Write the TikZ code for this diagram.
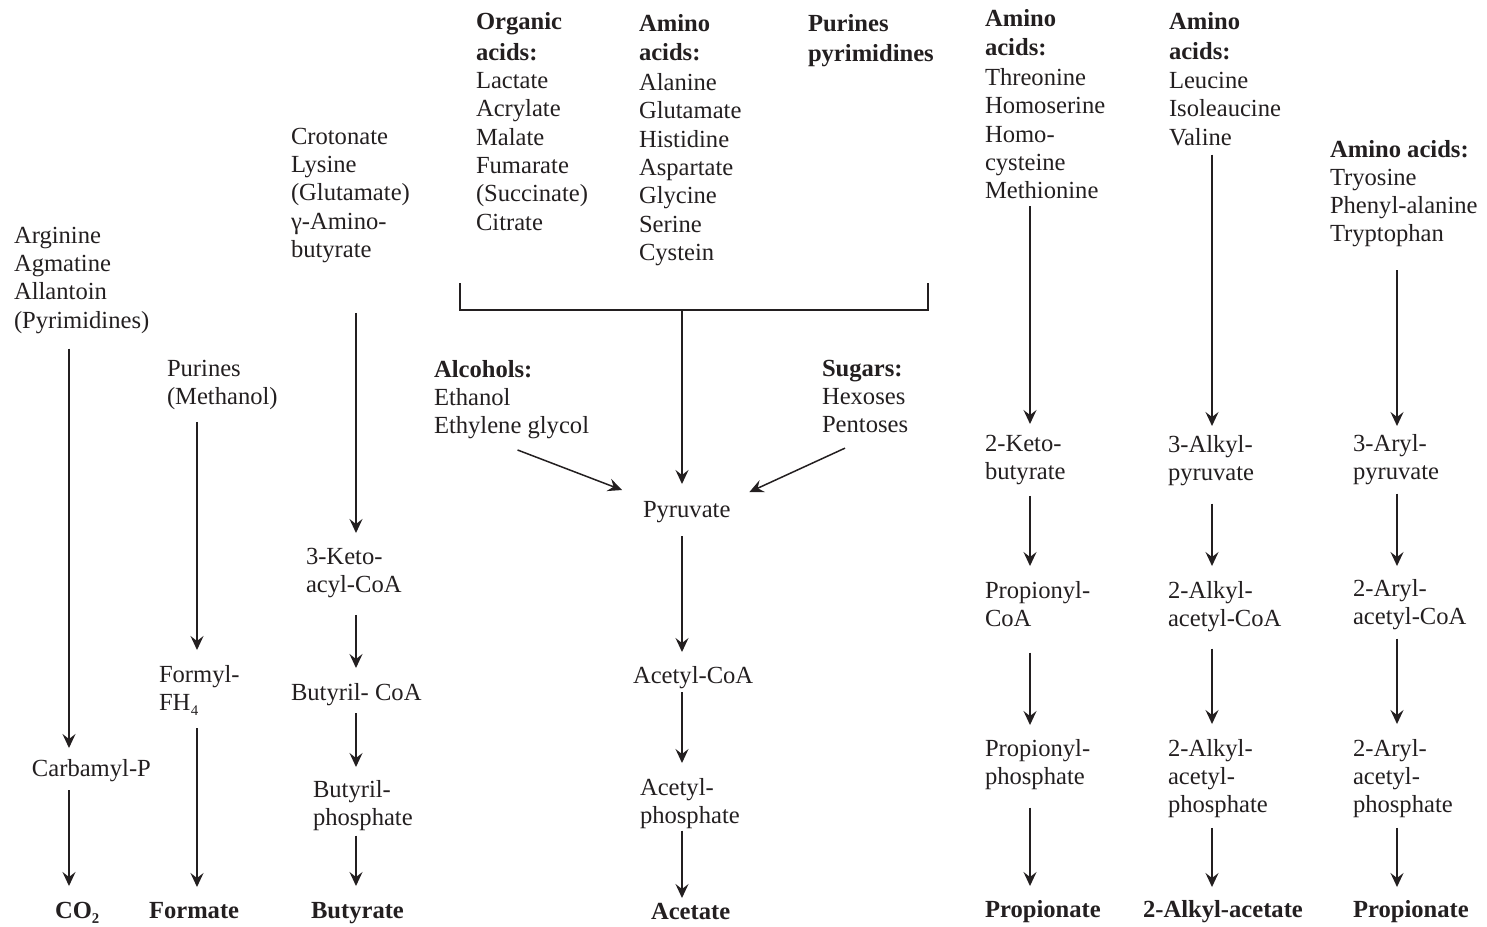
\documentclass[tikz,border=0pt]{standalone}
\usepackage{fontspec}
\setmainfont{Liberation Serif}
\usetikzlibrary{arrows.meta}
\definecolor{ink}{HTML}{231F20}
\begin{document}
\begin{tikzpicture}[x=0.5pt,y=-0.5pt,
  lbl/.style={anchor=north west, inner sep=0pt, outer sep=0pt, align=left, text=ink,
    font=\fontsize{12.3pt}{14.15pt}\selectfont},
  arr/.style={draw=ink, line width=0.75pt, -{Stealth[length=7pt,width=6.5pt,inset=2.5pt]}},
  ln/.style={draw=ink, line width=0.75pt}]
\useasboundingbox (0,0) rectangle (1487,926);
% column x coordinates
\coordinate (c1) at (69,0);
\coordinate (c2) at (197,0);
\coordinate (c3) at (356,0);
\coordinate (c4) at (682,0);
\coordinate (c5) at (1030,0);
\coordinate (c6) at (1212,0);
\coordinate (c7) at (1397,0);
% column 1
\node[lbl] (n1) at (14,227) {Arginine\\Agmatine\\Allantoin\\(Pyrimidines)};
\node[lbl] (carb) at (32,759) {Carbamyl-P};
\node[lbl] (co2) at (55,902) {\textbf{CO₂}};
% column 2
\node[lbl] (pur) at (167,360) {Purines\\(Methanol)};
\node[lbl] (form) at (159,665) {Formyl-\\FH₄};
\node[lbl] (formate) at (149,902) {\textbf{Formate}};
% column 3
\node[lbl] (crot) at (291,128) {Crotonate\\Lysine\\(Glutamate)\\γ-Amino-\\butyrate};
\node[lbl] (keto) at (306,548) {3-Keto-\\acyl-CoA};
\node[lbl] (butcoa) at (291,683) {Butyril- CoA};
\node[lbl] (butph) at (313,780) {Butyril-\\phosphate};
\node[lbl] (butyrate) at (311,902) {\textbf{Butyrate}};
% centre group
\node[lbl] (org) at (476,12) {\textbf{Organic}\\[1.5pt]\textbf{acids:}\\Lactate\\Acrylate\\Malate\\Fumarate\\(Succinate)\\Citrate};
\node[lbl] (amino1) at (639,14) {\textbf{Amino}\\[0.5pt]\textbf{acids:}\\[1pt]Alanine\\Glutamate\\Histidine\\Aspartate\\Glycine\\Serine\\Cystein};
\node[lbl] (purpyr) at (808,14) {\textbf{Purines}\\[1pt]\textbf{pyrimidines}};
\coordinate (bl) at (460,283);
\coordinate (br) at (928,283);
\coordinate (bm) at (682,310);
\node[lbl] (alc) at (434,360) {\textbf{Alcohols:}\\Ethanol\\Ethylene glycol};
\node[lbl] (sug) at (822,360) {\textbf{Sugars:}\\Hexoses\\Pentoses};
\node[lbl] (pyr) at (643,501) {Pyruvate};
\node[lbl] (acoa) at (633,666) {Acetyl-CoA};
\node[lbl] (aph) at (640,778) {Acetyl-\\phosphate};
\node[lbl] (acetate) at (651,903) {\textbf{Acetate}};
% right column A
\node[lbl] (aaA) at (985,9) {\textbf{Amino}\\[0.5pt]\textbf{acids:}\\[1pt]Threonine\\Homoserine\\Homo-\\cysteine\\Methionine};
\node[lbl] (keto2) at (985,435) {2-Keto-\\butyrate};
\node[lbl] (propcoa) at (985,581) {Propionyl-\\CoA};
\node[lbl] (propph) at (985,739) {Propionyl-\\phosphate};
\node[lbl] (prop1) at (985,900) {\textbf{Propionate}};
% right column B
\node[lbl] (aaB) at (1169,12) {\textbf{Amino}\\[1pt]\textbf{acids:}\\[0.5pt]Leucine\\Isoleaucine\\Valine};
\node[lbl] (alkpyr) at (1168,435) {3-Alkyl-\\pyruvate};
\node[lbl] (alkcoa) at (1168,581) {2-Alkyl-\\acetyl-CoA};
\node[lbl] (alkph) at (1168,739) {2-Alkyl-\\acetyl-\\phosphate};
\node[lbl] (alkacet) at (1143,900) {\textbf{2-Alkyl-acetate}};
% right column C
\node[lbl] (aaC) at (1330,140) {\textbf{Amino acids:}\\Tryosine\\Phenyl-alanine\\Tryptophan};
\node[lbl] (arypyr) at (1353,434) {3-Aryl-\\pyruvate};
\node[lbl] (arycoa) at (1353,579) {2-Aryl-\\acetyl-CoA};
\node[lbl] (aryph) at (1353,739) {2-Aryl-\\acetyl-\\phosphate};
\node[lbl] (prop2) at (1353,900) {\textbf{Propionate}};
% bracket
\draw[ln] (bl) |- (bm) -| (br);
% arrows column 1
\draw[arr, shorten <=7.5pt, shorten >=5.5pt] (n1.south -| c1) -- (carb.north -| c1);
\draw[arr, shorten <=4.5pt, shorten >=8pt] (carb.south -| c1) -- (co2.north -| c1);
% column 2
\draw[arr, shorten <=6pt, shorten >=7.5pt] (pur.south -| c2) -- (form.north -| c2);
\draw[arr, shorten <=6.5pt, shorten >=7.5pt] (form.south -| c2) -- (formate.north -| c2);
% column 3
\draw[arr, shorten <=25pt, shorten >=7.5pt] (crot.south -| c3) -- (keto.north -| c3);
\draw[arr, shorten <=8.5pt, shorten >=7.5pt] (keto.south -| c3) -- (butcoa.north -| c3);
\draw[arr, shorten <=4pt, shorten >=6.5pt] (butcoa.south -| c3) -- (butph.north -| c3);
\draw[arr, shorten <=2.5pt, shorten >=8pt] (butph.south -| c3) -- (butyrate.north -| c3);
% centre
\draw[arr, shorten >=8.5pt] (bm) -- (pyr.north -| c4);
\draw[arr, shorten <=7pt, shorten >=7pt] (pyr.south -| c4) -- (acoa.north -| c4);
\draw[arr, shorten <=2pt, shorten >=7.5pt] (acoa.south -| c4) -- (aph.north -| c4);
\draw[arr, shorten <=1pt, shorten >=2.5pt] (aph.south -| c4) -- (acetate.north -| c4);
\draw[arr] ([shift={(6,11)}]alc.south) -- ([shift={(-21,-11)}]pyr.north west);
\draw[arr] ([shift={(23,15)}]sug.south west) -- ([shift={(19,-9)}]pyr.north east);
% column A
\draw[arr, shorten <=3.5pt, shorten >=5.5pt] (aaA.south -| c5) -- (keto2.north -| c5);
\draw[arr, shorten <=5.5pt, shorten >=7.5pt] (keto2.south -| c5) -- (propcoa.north -| c5);
\draw[arr, shorten <=13pt, shorten >=7pt] (propcoa.south -| c5) -- (propph.north -| c5);
\draw[arr, shorten <=9pt, shorten >=7pt] (propph.south -| c5) -- (prop1.north -| c5);
% column B
\draw[arr, shorten <=4.5pt, shorten >=4.5pt] (aaB.south -| c6) -- (alkpyr.north -| c6);
\draw[arr, shorten <=9pt, shorten >=7.5pt] (alkpyr.south -| c6) -- (alkcoa.north -| c6);
\draw[arr, shorten <=8.5pt, shorten >=7.5pt] (alkcoa.south -| c6) -- (alkph.north -| c6);
\draw[arr, shorten <=5pt, shorten >=6.5pt] (alkph.south -| c6) -- (alkacet.north -| c6);
% column C
\draw[arr, shorten <=11.5pt, shorten >=4pt] (aaC.south -| c7) -- (arypyr.north -| c7);
\draw[arr, shorten <=4.5pt, shorten >=6.5pt] (arypyr.south -| c7) -- (arycoa.north -| c7);
\draw[arr, shorten <=4.5pt, shorten >=7.5pt] (arycoa.south -| c7) -- (aryph.north -| c7);
\draw[arr, shorten <=5pt, shorten >=6.5pt] (aryph.south -| c7) -- (prop2.north -| c7);
\end{tikzpicture}
\end{document}
